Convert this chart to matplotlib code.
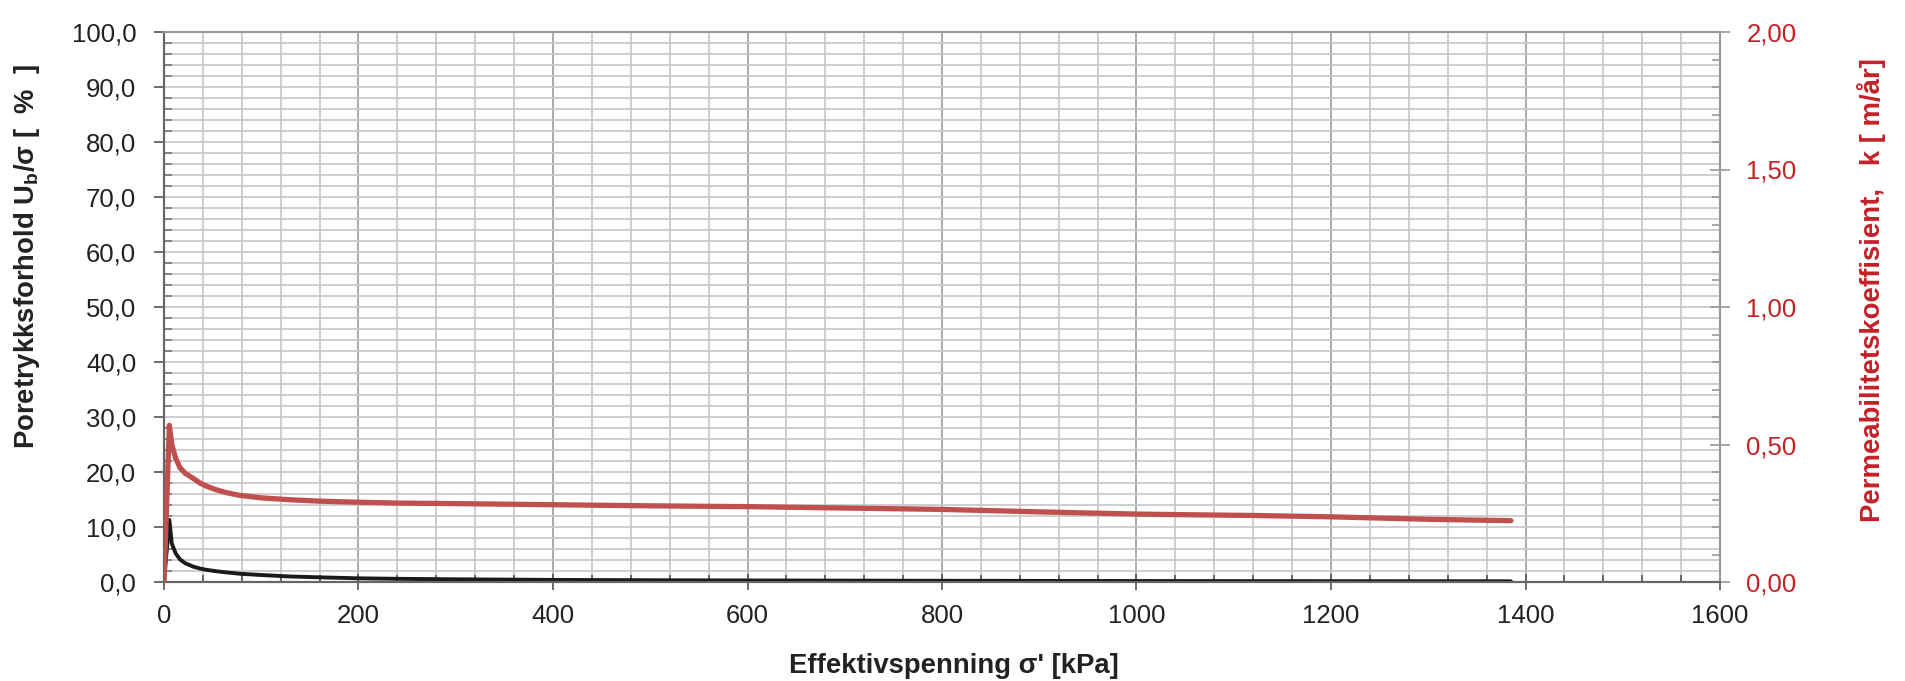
import matplotlib

matplotlib.use("Agg")
import matplotlib.pyplot as plt
from matplotlib.ticker import FuncFormatter, MultipleLocator

plt.rcParams["font.family"] = ["Liberation Sans", "DejaVu Sans"]
plt.rcParams["mathtext.fontset"] = "custom"
plt.rcParams["mathtext.rm"] = "Liberation Sans:bold"
plt.rcParams["mathtext.bf"] = "Liberation Sans:bold"
plt.rcParams["mathtext.it"] = "Liberation Sans:bold"

# effective stress [kPa]
sigma = [0, 5.5, 8, 12, 16.5, 22, 30, 37, 44, 54, 64, 78, 100, 130, 160, 200,
         240, 300, 400, 500, 600, 700, 800, 900, 1000, 1066, 1120, 1200, 1300,
         1385]
# pore pressure ratio Ub/sigma [%]
pore_ratio = [0, 11.3, 7.0, 5.2, 4.1, 3.4, 2.8, 2.45, 2.2, 1.95, 1.75, 1.5,
              1.27, 1.0, 0.85, 0.67, 0.58, 0.49, 0.38, 0.32, 0.28, 0.25, 0.22,
              0.2, 0.18, 0.17, 0.16, 0.15, 0.14, 0.13]
# permeability k [m/year]
perm = [0, 0.57, 0.50, 0.45, 0.415, 0.395, 0.377, 0.360, 0.348, 0.335, 0.325,
        0.315, 0.306, 0.299, 0.294, 0.29, 0.287, 0.285, 0.281, 0.277, 0.274,
        0.269, 0.264, 0.255, 0.247, 0.244, 0.242, 0.237, 0.228, 0.223]

RED_TEXT = "#C42127"
RED_LINE = "#C0504D"
DARK = "#222222"

fig = plt.figure(figsize=(19.06, 6.81), dpi=100)
ax = fig.add_axes([164 / 1906, 1 - 582 / 681, 1556 / 1906, 550 / 681])
ax2 = ax.twinx()

ax.set_xlim(0, 1600)
ax.set_ylim(0, 100)
ax2.set_ylim(0, 2)

ax.xaxis.set_major_locator(MultipleLocator(200))
ax.xaxis.set_minor_locator(MultipleLocator(40))
ax.yaxis.set_major_locator(MultipleLocator(10))
ax.yaxis.set_minor_locator(MultipleLocator(2))
ax2.yaxis.set_major_locator(MultipleLocator(0.5))
ax2.yaxis.set_minor_locator(MultipleLocator(0.1))

ax.yaxis.set_major_formatter(FuncFormatter(lambda v, p: f"{v:.1f}".replace(".", ",")))
ax2.yaxis.set_major_formatter(FuncFormatter(lambda v, p: f"{v:.2f}".replace(".", ",")))

ax.grid(which="minor", axis="x", color="#c6c6ca", lw=1.2, zorder=0)
ax.grid(which="major", axis="x", color="#9c9ca0", lw=1.2, zorder=0)
ax.grid(which="both", axis="y", color="#c6c6ca", lw=1.2, zorder=0)
ax.set_axisbelow(True)

ax.plot(sigma, pore_ratio, color="#1a1a1a", lw=2.8, solid_capstyle="round", zorder=3)
ax2.plot(sigma, perm, color=RED_LINE, lw=3.8, solid_capstyle="round", zorder=3)

# ticks
ax.tick_params(axis="x", which="major", direction="inout", length=12, width=1.2,
               color="#555555", labelsize=18.5, labelcolor=DARK, pad=10)
ax.tick_params(axis="x", which="minor", direction="in", length=5, width=1.2,
               color="#555555")
ax.tick_params(axis="y", which="major", direction="out", length=7, width=1.2,
               color="#555555", labelsize=18.5, labelcolor=DARK, pad=13)
ax.tick_params(axis="y", which="minor", direction="in", length=6, width=1.2,
               color="#777777")
ax2.tick_params(axis="y", which="major", direction="inout", length=14, width=1.2,
                color="#999999", labelsize=18.5, labelcolor=RED_TEXT, pad=12)
ax2.tick_params(axis="y", which="minor", direction="in", length=6, width=1.2,
                color="#999999")

for side, col in [("left", "#666666"), ("bottom", "#666666"),
                  ("right", "#9a9a9a"), ("top", "#9a9a9a")]:
    ax.spines[side].set_color(col)
    ax.spines[side].set_linewidth(1.5)
    ax2.spines[side].set_color(col)
    ax2.spines[side].set_linewidth(1.5)

# labels
ax.set_xlabel("Effektivspenning σ' [kPa]", fontsize=19.8, fontweight="bold",
              color=DARK, va="center")
ax.xaxis.set_label_coords((954 - 164) / 1556, -(666 - 582) / 550)
ax.set_ylabel(r"Poretrykksforhold U$_\mathbf{b}$/σ [  %  ]", fontsize=19.8,
              fontweight="bold", color=DARK, va="center")
ax.yaxis.set_label_coords((27 - 164) / 1556, (582 - 256) / 550)
ax2.set_ylabel("Permeabilitetskoeffisient,   k [ m/år]", fontsize=19.8,
               fontweight="bold", color=RED_TEXT, va="center", rotation=90)
ax2.yaxis.set_label_coords((1872 - 164) / 1556, (582 - 290) / 550)

fig.savefig("out.png", dpi=100)
